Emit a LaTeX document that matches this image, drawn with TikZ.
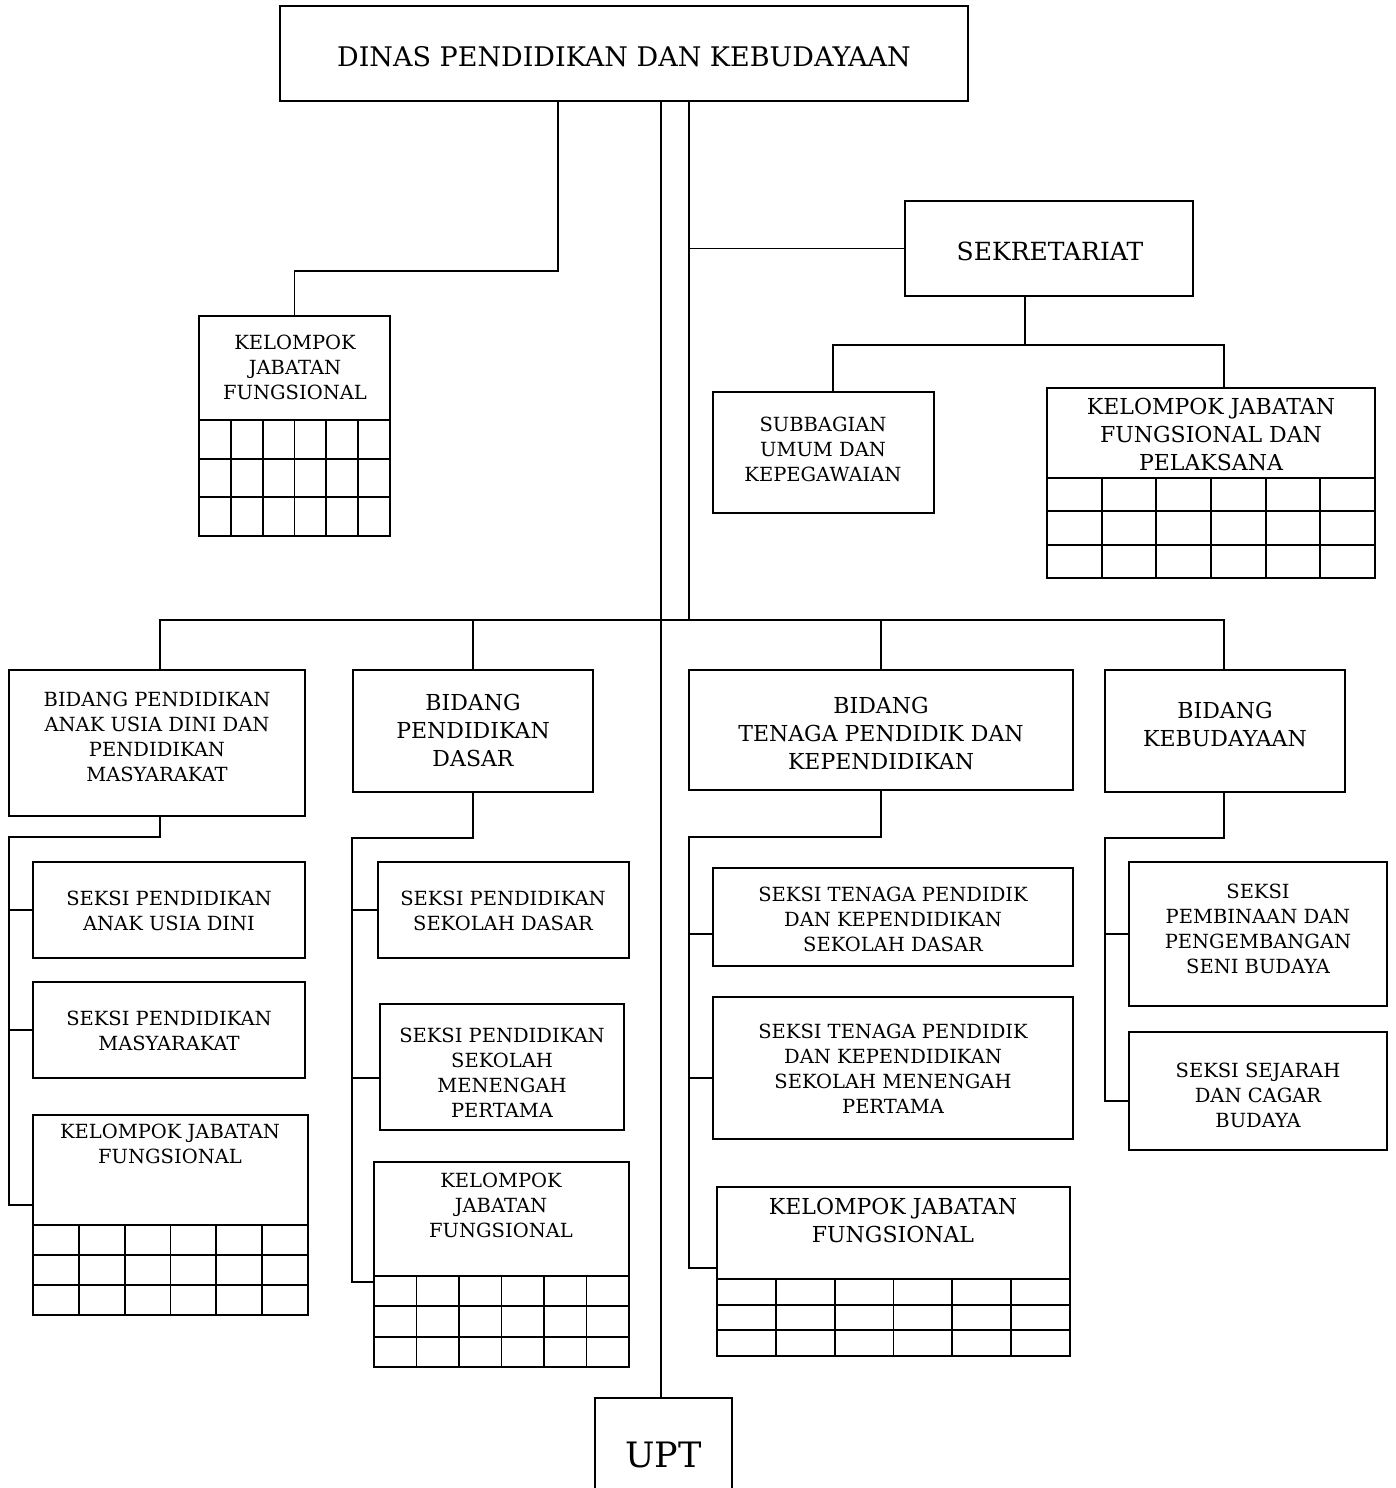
\documentclass[tikz,border=0pt]{standalone}
\usepackage{fontspec}
\setmainfont{DejaVu Serif}
\begin{document}
\begin{tikzpicture}[x=1pt,y=-1pt,
  line width=1.8pt,
  bx/.style 2 args={draw, line width=1.8pt, minimum width=#1pt, minimum height=#2pt, inner sep=0pt},
  txs/.style={align=center, inner sep=0pt, font=\fontsize{19.5pt}{25pt}\selectfont},
  txm/.style={align=center, inner sep=0pt, font=\fontsize{22pt}{28pt}\selectfont},
  txl/.style={align=center, inner sep=0pt, font=\fontsize{27pt}{32pt}\selectfont},
]
\newcommand{\cellgrid}[4]{%
  \foreach \k in {0,1,2} {\draw ({#1},{#3+\k*(#4-#3)/3}) -- ({#2},{#3+\k*(#4-#3)/3});}
  \foreach \k in {1,...,5} {\draw ({#1+\k*(#2-#1)/6},{#3}) -- ({#1+\k*(#2-#1)/6},{#4});}
}
\fill[white] (0,0) rectangle (1396,1488);
\useasboundingbox (0,0) rectangle (1396,1488);

% ---- boxes ----
\node[bx={688}{95}]  (dinas) at (624,53.5) {};
\node[bx={288}{95}]  (sekr)  at (1049,248.5) {};
\node[bx={191}{220}] (kjfa)  at (294.5,426) {};
\node[bx={221}{121}] (subb)  at (823.5,452.5) {};
\node[bx={328}{190}] (kjfp)  at (1211,483) {};
\node[bx={296}{146}] (bpaud) at (157,743) {};
\node[bx={240}{122}] (bpd)   at (473,731) {};
\node[bx={384}{120}] (btpk)  at (881,730) {};
\node[bx={240}{122}] (bk)    at (1225,731) {};
\node[bx={272}{96}]  (spaud) at (169,910) {};
\node[bx={272}{96}]  (spm)   at (169,1030) {};
\node[bx={275}{200}] (kjf1)  at (170.5,1215) {};
\node[bx={251}{96}]  (spsd)  at (503.5,910) {};
\node[bx={244}{126}] (spsmp) at (502,1067) {};
\node[bx={255}{205}] (kjf2)  at (501.5,1264.5) {};
\node[bx={360}{98}]  (stsd)  at (893,917) {};
\node[bx={360}{142}] (stsmp) at (893,1068) {};
\node[bx={353}{169}] (kjf3)  at (893.5,1271.5) {};
\node[bx={258}{144}] (sppsb) at (1258,934) {};
\node[bx={258}{118}] (sscb)  at (1258,1091) {};
\node[bx={137}{110}] (upt)   at (663.5,1453) {};

% ---- cell grids under the functional groups ----
\cellgrid{199}{390}{420}{536}
\cellgrid{1047}{1375}{478}{578}
\cellgrid{33}{308}{1225}{1315}
\cellgrid{374}{629}{1276}{1367}
\cellgrid{717}{1070}{1279}{1356}

% ---- texts ----
\node[txl] (t-dinas) at (624,57) {DINAS PENDIDIKAN DAN KEBUDAYAAN};
\node[txl, font=\fontsize{25pt}{30pt}\selectfont] (t-sekr) at (1050,251) {SEKRETARIAT};
\node[txs] (t-kjfa)  at (295,367) {KELOMPOK\\JABATAN\\FUNGSIONAL};
\node[txs] (t-subb)  at (823,449) {SUBBAGIAN\\UMUM DAN\\KEPEGAWAIAN};
\node[txm] (t-kjfp)  at (1211,434) {KELOMPOK JABATAN\\FUNGSIONAL DAN\\PELAKSANA};
\node[txs] (t-bpaud) at (157,737) {BIDANG PENDIDIKAN\\ANAK USIA DINI DAN\\PENDIDIKAN\\MASYARAKAT};
\node[txm] (t-bpd)   at (473,730) {BIDANG\\PENDIDIKAN\\DASAR};
\node[txm] (t-btpk)  at (881,733) {BIDANG\\TENAGA PENDIDIK DAN\\KEPENDIDIKAN};
\node[txm] (t-bk)    at (1225,724) {BIDANG\\KEBUDAYAAN};
\node[txs] (t-spaud) at (169,911) {SEKSI PENDIDIKAN\\ANAK USIA DINI};
\node[txs] (t-spm)   at (169,1031) {SEKSI PENDIDIKAN\\MASYARAKAT};
\node[txs] (t-kjf1)  at (170,1144) {KELOMPOK JABATAN\\FUNGSIONAL};
\node[txs] (t-spsd)  at (503,911) {SEKSI PENDIDIKAN\\SEKOLAH DASAR};
\node[txs] (t-spsmp) at (502,1073) {SEKSI PENDIDIKAN\\SEKOLAH\\MENENGAH\\PERTAMA};
\node[txs] (t-kjf2)  at (501,1205) {KELOMPOK\\JABATAN\\FUNGSIONAL};
\node[txs] (t-stsd)  at (893,919) {SEKSI TENAGA PENDIDIK\\DAN KEPENDIDIKAN\\SEKOLAH DASAR};
\node[txs] (t-stsmp) at (893,1069) {SEKSI TENAGA PENDIDIK\\DAN KEPENDIDIKAN\\SEKOLAH MENENGAH\\PERTAMA};
\node[txm] (t-kjf3)  at (893,1220) {KELOMPOK JABATAN\\FUNGSIONAL};
\node[txs] (t-sppsb) at (1258,929) {SEKSI\\PEMBINAAN DAN\\PENGEMBANGAN\\SENI BUDAYA};
\node[txs] (t-sscb)  at (1258,1095) {SEKSI SEJARAH\\DAN CAGAR\\BUDAYA};
\node[txl, font=\fontsize{35pt}{40pt}\selectfont] (t-upt) at (663.5,1455) {UPT};

% ---- helper coordinates for the connector lines ----
\coordinate (xA)   at (558,271);
\coordinate (trk)  at (661,0);
\coordinate (sec)  at (689,0);
\coordinate (bus)  at (0,620);
\coordinate (sbus) at (0,345);
\coordinate (sstem) at (1025,0);
\coordinate (dsub) at (833,0);
\coordinate (dkp)  at (1224,0);
\coordinate (c160) at (160,0);
\coordinate (la)   at (9,837);
\coordinate (lb)   at (352,838);
\coordinate (lc)   at (689,837);
\coordinate (ld)   at (1105,838);
\coordinate (bj1)  at (0,1205);
\coordinate (bj2)  at (0,1282);
\coordinate (sj2)  at (0,1078);
\coordinate (bj3)  at (0,1268);
\coordinate (tj1)  at (0,934);
\coordinate (tj2)  at (0,1078);
\coordinate (kj2)  at (0,1101);

% ---- connectors ----
\draw (dinas.south -| xA) -- (xA) -| (kjfa.north);
\draw (dinas.south -| trk) -- (upt.north -| trk);
\draw (dinas.south -| sec) -- (bus -| sec);
\draw (sekr.west -| sec) -- (sekr.west);
\draw (sekr.south -| sstem) -- (sbus -| sstem);
\draw (subb.north -| dsub) -- (sbus -| dsub) -- (sbus -| dkp) -- (kjfp.north -| dkp);

\draw (bpaud.north -| c160) -- (bus -| c160) -- (bus -| dkp) -- (bk.north -| dkp);
\draw (bpd.north) -- (bpd.north |- bus);
\draw (btpk.north) -- (btpk.north |- bus);

\draw (bpaud.south -| c160) -- (la -| c160) -- (la) -- (la |- bj1) -- (bj1 -| kjf1.west);
\draw (la |- spaud.west) -- (spaud.west);
\draw (la |- spm.west) -- (spm.west);

\draw (bpd.south) -- (bpd.south |- lb) -- (lb) -- (lb |- bj2) -- (bj2 -| kjf2.west);
\draw (lb |- spsd.west) -- (spsd.west);
\draw (lb |- sj2) -- (sj2 -| spsmp.west);

\draw (btpk.south) -- (btpk.south |- lc) -- (lc) -- (lc |- bj3) -- (bj3 -| kjf3.west);
\draw (lc |- tj1) -- (tj1 -| stsd.west);
\draw (lc |- tj2) -- (tj2 -| stsmp.west);

\draw (bk.south -| dkp) -- (ld -| dkp) -- (ld) -- (ld |- kj2) -- (kj2 -| sscb.west);
\draw (ld |- sppsb.west) -- (sppsb.west);
\end{tikzpicture}
\end{document}
